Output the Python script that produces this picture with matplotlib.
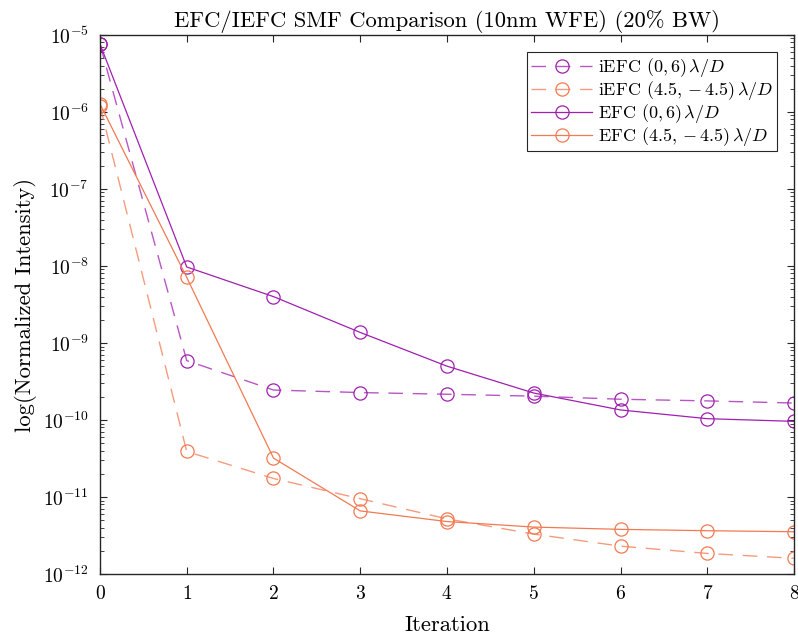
import numpy as np
import matplotlib
matplotlib.use("Agg")
import matplotlib.pyplot as plt
from matplotlib.colors import to_rgba

plt.rcParams['font.family'] = 'cmr10'
plt.rcParams['mathtext.fontset'] = 'cm'
plt.rcParams['axes.unicode_minus'] = False
plt.rcParams['axes.formatter.use_mathtext'] = True

iterations = [0, 1, 2, 3, 4, 5, 6, 7, 8]
iefc_06 = [7.6e-6, 5.9e-10, 2.45e-10, 2.27e-10, 2.16e-10, 2.04e-10, 1.86e-10, 1.77e-10, 1.66e-10]
iefc_45 = [1.2e-6, 3.9e-11, 1.74e-11, 9.5e-12, 5.2e-12, 3.3e-12, 2.3e-12, 1.85e-12, 1.6e-12]
efc_06 = [7.6e-6, 9.7e-9, 4.0e-9, 1.37e-9, 5.0e-10, 2.24e-10, 1.35e-10, 1.04e-10, 9.6e-11]
efc_45 = [1.27e-6, 7.1e-9, 3.2e-11, 6.6e-12, 4.8e-12, 4.07e-12, 3.8e-12, 3.65e-12, 3.54e-12]

labels = [r'iEFC $(0,6)\,\lambda/D$', r'iEFC $(4.5,-4.5)\,\lambda/D$',
          r'EFC $(0,6)\,\lambda/D$', r'EFC $(4.5,-4.5)\,\lambda/D$']

purple = '#a01fb0'
orange = '#f27a52'

fig = plt.figure(figsize=(7.98, 6.41), dpi=100)
ax = fig.add_axes([0.1253, 0.1045, 0.8697, 0.841])

def dashed(y, c, lab):
    ax.plot(iterations, y, color=to_rgba(c, 0.75), linestyle=(0, (10.5, 7)), linewidth=1.0,
            marker='o', markersize=9.5, markerfacecolor='none',
            markeredgecolor=to_rgba(c, 1.0), markeredgewidth=0.9, label=lab)

def solid(y, c, lab):
    ax.plot(iterations, y, color=c, linestyle='-', linewidth=0.9,
            marker='o', markersize=9.5, markerfacecolor='none',
            markeredgecolor=c, markeredgewidth=0.9, label=lab)

dashed(iefc_06, purple, labels[0])
dashed(iefc_45, orange, labels[1])
solid(efc_06, purple, labels[2])
solid(efc_45, orange, labels[3])

ax.set_yscale('log')
ax.set_xlim(0, 8)
ax.set_ylim(1e-12, 1e-5)
ax.set_xticks(iterations)
ax.tick_params(which='both', direction='in', top=True, right=True, color='#262626')
ax.tick_params(which='major', length=5, labelsize=14, pad=8)
ax.tick_params(which='minor', length=3)
for s in ax.spines.values():
    s.set_color('#262626')
    s.set_linewidth(1.0)

ax.set_title('EFC/IEFC SMF Comparison (10nm WFE) (20% BW)', fontsize=16.3, pad=6)
ax.set_xlabel('Iteration', fontsize=16.3, labelpad=9)
ax.set_ylabel('log(Normalized Intensity)', fontsize=16.3, labelpad=4)

leg = ax.legend(loc='upper right', fontsize=13, fancybox=False, edgecolor='#262626',
                framealpha=1, handlelength=3.4, borderaxespad=0.95, labelspacing=0.0,
                borderpad=0.2, handletextpad=0.3, handleheight=0.5)
leg.get_frame().set_linewidth(0.8)

fig.savefig('out.png', dpi=100)
